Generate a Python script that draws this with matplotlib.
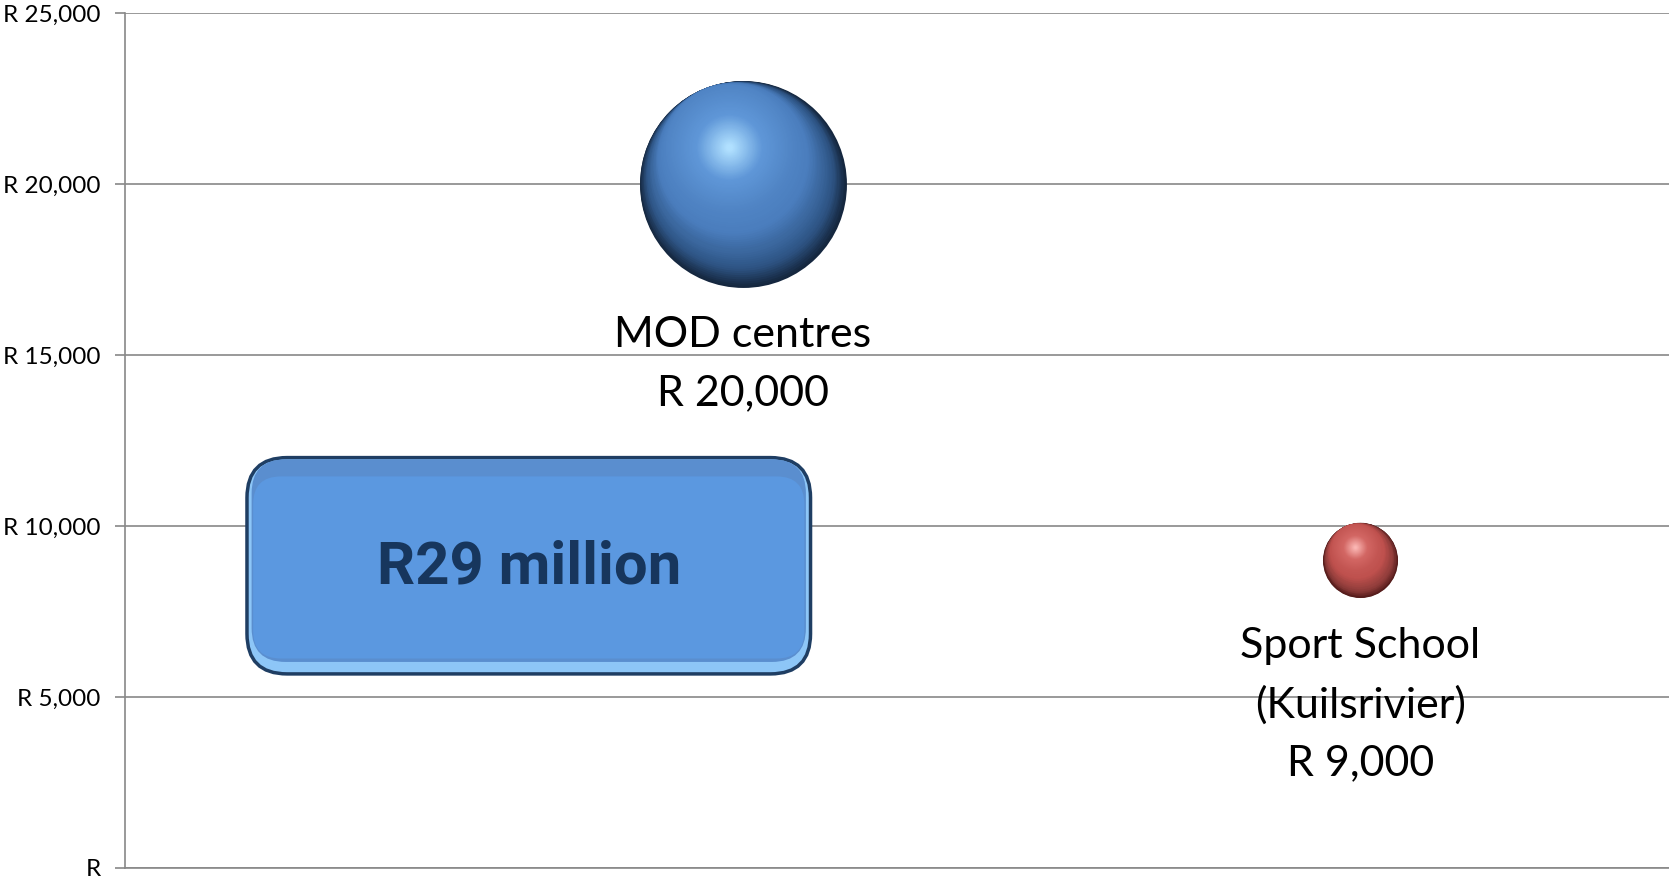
import numpy as np
import matplotlib
matplotlib.use('Agg')
import matplotlib.pyplot as plt
from matplotlib.colors import LinearSegmentedColormap
from matplotlib.patches import FancyBboxPatch
from matplotlib.transforms import ScaledTranslation

plt.rcParams['font.family'] = ['Lato', 'DejaVu Sans']

# data
categories = ['MOD centres', 'Sport School\n(Kuilsrivier)']
x_pos = [1, 2]
costs = [20000, 9000]
cost_labels = ['R 20,000', 'R 9,000']
bubble_size = [7.6, 1.0]          # relative bubble areas
y_ticks = [0, 5000, 10000, 15000, 20000, 25000]
y_tick_labels = ['R', 'R 5,000', 'R 10,000', 'R 15,000', 'R 20,000', 'R 25,000']
total_note = 'R29 million'

# sphere colours: dark rim -> mid -> highlight
sphere_colors = [
    [(0.0, '#15273F'), (0.1, '#2E5585'), (0.28, '#4A7DBD'), (0.7, '#5F97D8'), (1.0, '#B0E0FF')],
    [(0.0, '#531B1A'), (0.1, '#8E3C3A'), (0.28, '#BE504D'), (0.7, '#D36764'), (1.0, '#FBB6B3')],
]
grid_color = '#888888'


def draw_sphere(ax, x, y, area, colors, n=90):
    cmap = LinearSegmentedColormap.from_list('sphere', colors)
    r_pt = np.sqrt(area) / 2
    direction = np.array([-0.35, 0.94])
    for i in range(n):
        t = i / (n - 1)
        f = 1 - 0.97 * t
        d = min(0.97 * (1 - f), 0.38) * r_pt / 72
        tr = ax.transData + ScaledTranslation(direction[0] * d, direction[1] * d,
                                              ax.figure.dpi_scale_trans)
        ax.scatter([x], [y], s=area * f ** 2, color=cmap(t), linewidths=0,
                   transform=tr, zorder=3 + i * 0.001)


fig = plt.figure(figsize=(16.69, 8.82), dpi=100)
ax = fig.add_axes([125 / 1669, 14 / 882, 1544 / 1669, 855 / 882])

ax.set_xlim(0, 2.5)
ax.set_ylim(0, 25000)
ax.set_yticks(y_ticks)
ax.set_yticklabels(y_tick_labels)
ax.set_xticks([])
ax.yaxis.grid(True, color=grid_color, linewidth=1.2)
ax.set_axisbelow(True)
for side in ['top', 'right']:
    ax.spines[side].set_visible(False)
for side in ['left', 'bottom']:
    ax.spines[side].set_color(grid_color)
    ax.spines[side].set_linewidth(1.2)
ax.tick_params(axis='y', direction='out', length=7.5, width=1.2, color=grid_color,
               pad=10, labelsize=17.5, labelcolor='black')

# bubbles
scale = 2920  # points^2 per unit of bubble size
for i in range(len(x_pos)):
    area = bubble_size[i] * scale
    draw_sphere(ax, x_pos[i], costs[i], area, sphere_colors[i])
    r_px = np.sqrt(area) / 2 / 0.72
    ax.annotate(categories[i] + '\n' + cost_labels[i], xy=(x_pos[i], costs[i]),
                xytext=(0, -(r_px + 29)), textcoords='offset pixels',
                ha='center', va='top', fontsize=31, linespacing=1.63, color='black',
                zorder=5)

# total callout box
x0, y0, w, h = 0.079, 0.227, 0.365, 0.253
asp = 1544 / 855
outer = FancyBboxPatch((x0, y0), w, h, boxstyle='round,pad=0,rounding_size=0.026',
                       mutation_aspect=asp, transform=ax.transAxes,
                       fc='#8DC6F7', ec='#1F3E63', lw=2.5, zorder=4)
ax.add_patch(outer)
mid = FancyBboxPatch((x0 + 0.003, y0 + 0.014), w - 0.006, h - 0.016,
                     boxstyle='round,pad=0,rounding_size=0.022',
                     mutation_aspect=asp, transform=ax.transAxes,
                     fc='#5A8ECF', ec='none', zorder=4.1)
ax.add_patch(mid)
inner = FancyBboxPatch((x0 + 0.004, y0 + 0.018), w - 0.008, h - 0.04,
                       boxstyle='round,pad=0,rounding_size=0.018',
                       mutation_aspect=asp, transform=ax.transAxes,
                       fc='#5B98E0', ec='none', zorder=4.2)
ax.add_patch(inner)
ax.text(x0 + w / 2, y0 + h / 2 - 0.002, total_note, transform=ax.transAxes,
        ha='center', va='center', fontsize=43, fontweight='bold',
        family=['Roboto', 'DejaVu Sans'], color='#17365D', zorder=5)

fig.savefig('out.png', dpi=100)
